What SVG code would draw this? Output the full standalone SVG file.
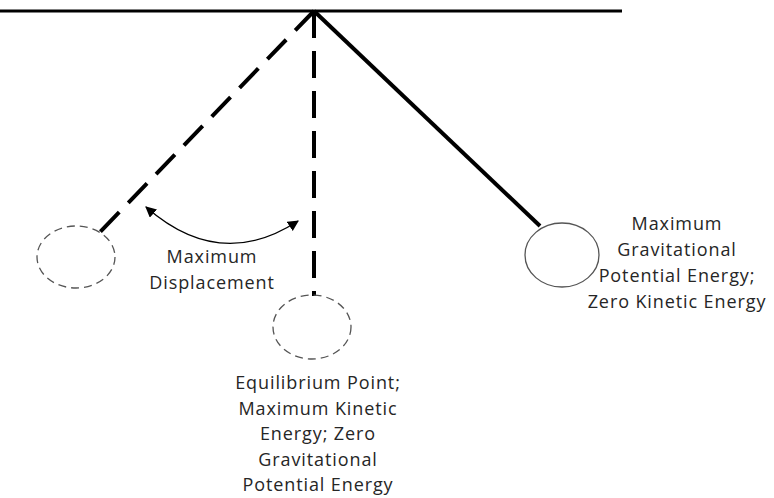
<svg xmlns="http://www.w3.org/2000/svg" width="774" height="498" viewBox="0 0 774 498">
<style>
.lbl{font-family:"Open Sans","Liberation Sans",sans-serif;font-size:18px;letter-spacing:0.9px;fill:#262626;text-anchor:middle}
.bob{fill:none;stroke:#555;stroke-width:1.3}
.dbob{stroke-dasharray:8 5}
.rod{stroke:#000;stroke-width:4;fill:none}
.drod{stroke-dasharray:27 13}
</style>
<defs>
<marker id="ah" viewBox="0 0 10 10" refX="9" refY="5" markerWidth="11" markerHeight="11" markerUnits="userSpaceOnUse" orient="auto-start-reverse">
<path d="M0,0 L10,5 L0,10 z" fill="#000"/>
</marker>
</defs>
<g id="connectors">
<line x1="0" y1="11" x2="622" y2="11" stroke="#000" stroke-width="3"/>
<line class="rod drod" x1="314" y1="11" x2="100" y2="232"/>
<line class="rod drod" x1="314" y1="11" x2="314" y2="296"/>
<line class="rod" x1="314" y1="11" x2="540" y2="226" stroke-width="3.5"/>
<path d="M146,207 Q220,272 298,221" fill="none" stroke="#000" stroke-width="1.3" marker-start="url(#ah)" marker-end="url(#ah)"/>
</g>
<g id="bob-left">
<ellipse class="bob dbob" cx="76" cy="257" rx="39" ry="31"/>
</g>
<g id="bob-middle">
<ellipse class="bob dbob" cx="312" cy="327" rx="39" ry="32"/>
</g>
<g id="bob-right">
<ellipse class="bob" cx="562" cy="255" rx="37" ry="32"/>
</g>
<g id="label-displacement">
<text class="lbl" x="212" y="263">Maximum</text>
<text class="lbl" x="212" y="289">Displacement</text>
</g>
<g id="label-equilibrium">
<text class="lbl" x="318" y="389">Equilibrium Point;</text>
<text class="lbl" x="318" y="415">Maximum Kinetic</text>
<text class="lbl" x="318" y="440">Energy; Zero</text>
<text class="lbl" x="318" y="466">Gravitational</text>
<text class="lbl" x="318" y="491">Potential Energy</text>
</g>
<g id="label-right">
<text class="lbl" x="677" y="230">Maximum</text>
<text class="lbl" x="677" y="256">Gravitational</text>
<text class="lbl" x="677" y="282">Potential Energy;</text>
<text class="lbl" x="677" y="308">Zero Kinetic Energy</text>
</g>
</svg>
